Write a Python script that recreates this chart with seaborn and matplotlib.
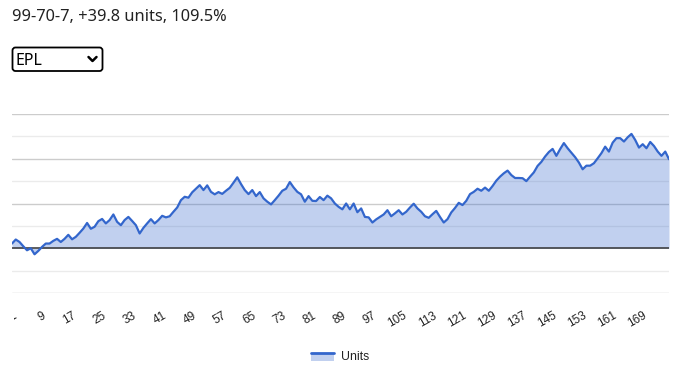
import numpy as np
import pandas as pd
import matplotlib
matplotlib.use("Agg")
import matplotlib.pyplot as plt
import seaborn as sns
from matplotlib.patches import FancyBboxPatch, Rectangle
from matplotlib.lines import Line2D
from matplotlib.legend_handler import HandlerBase
from matplotlib.transforms import Bbox, TransformedBbox

# Cumulative units after each bet
units = [
    2.1, 3.9, 2.8, 0.9, -0.9, 0.0, -2.7, -1.2, 0.6, 2.1,
    2.1, 3.3, 4.2, 2.8, 4.2, 6.0, 4.0, 5.1, 6.9, 8.8,
    11.3, 8.7, 9.6, 12.1, 13.1, 11.1, 12.6, 15.1, 11.8, 10.3,
    12.6, 14.0, 12.2, 10.3, 6.6, 9.1, 11.1, 13.0, 11.1, 12.6,
    14.5, 13.8, 14.3, 16.3, 18.2, 21.5, 23.0, 22.6, 25.0, 26.6,
    28.2, 26.0, 28.1, 25.2, 24.1, 25.1, 24.3, 25.7, 27.0, 29.3,
    31.7, 28.7, 26.0, 24.2, 26.0, 23.3, 25.1, 22.3, 20.8, 19.6,
    21.5, 23.5, 25.7, 26.6, 29.6, 27.2, 25.2, 24.1, 20.8, 23.3,
    21.2, 21.1, 22.9, 21.5, 23.5, 22.3, 20.0, 18.5, 17.4, 20.0,
    17.4, 20.0, 16.1, 17.8, 14.0, 13.8, 11.5, 12.9, 14.0, 15.1,
    17.0, 14.3, 15.6, 17.0, 15.1, 16.3, 18.2, 19.9, 17.8, 16.3,
    14.3, 13.6, 15.2, 16.7, 14.0, 11.5, 13.0, 16.0, 18.0, 20.3,
    19.3, 21.2, 24.2, 25.2, 26.6, 25.7, 27.1, 25.7, 27.8, 30.2,
    32.0, 33.5, 34.7, 32.7, 31.4, 31.4, 31.3, 30.0, 32.0, 33.9,
    36.8, 38.6, 41.0, 43.0, 44.4, 41.3, 44.3, 47.0, 44.7, 42.7,
    40.7, 38.3, 35.3, 36.9, 36.9, 38.0, 40.2, 42.5, 45.4, 43.2,
    47.2, 49.2, 49.2, 47.7, 49.6, 51.1, 48.4, 45.0, 46.5, 44.7,
    47.5, 45.7, 43.2, 41.3, 43.2, 39.8,
]
bets = list(range(1, len(units) + 1))
tick_bets = list(range(1, 170, 8))
title = "99-70-7, +39.8 units, 109.5%"
league = "EPL"
series_name = "Units"

df = pd.DataFrame({"bet": bets, "units": units})

line_color = "#3366cc"

sns.set_style("white")
plt.rcParams["font.family"] = ["Liberation Sans", "DejaVu Sans"]

W, H = 681, 378
fig = plt.figure(figsize=(W / 100, H / 100), dpi=100)
ax = fig.add_axes([12 / W, 1 - 293 / H, 657 / W, 179 / H])

# gridlines
for v in [-20, 20, 40, 60]:
    ax.axhline(v, color="#cccccc", lw=1, zorder=0)
for v in [-10, 10, 30, 50]:
    ax.axhline(v, color="#ebebeb", lw=1, zorder=0)

ax.fill_between(df["bet"], df["units"], 0, color=line_color, alpha=0.3, lw=0, zorder=1)
sns.lineplot(data=df, x="bet", y="units", color=line_color, lw=1.6, ax=ax, zorder=3)
ax.axhline(0, color="#333333", lw=1.1, zorder=2)

ax.set_xlim(1, len(units))
ax.set_ylim(-20, 60)
ax.set_yticks([])
ax.set_xlabel("")
ax.set_ylabel("")
for s in ax.spines.values():
    s.set_visible(False)

ax.set_xticks(tick_bets)
ax.set_xticklabels([str(b) for b in tick_bets], rotation=30, ha="right",
                   rotation_mode="anchor", fontsize=8.5, color="#222222")
ax.tick_params(axis="x", length=0, pad=12)
clip = TransformedBbox(Bbox([[13.5 / W, 0], [1, 1]]), fig.transFigure)
for lab in ax.get_xticklabels():
    lab.set_clip_box(clip)
    lab.set_clip_on(True)

# header text
fig.text(12 / W, 1 - 17 / H, title, fontsize=11.8, color="#222222",
         va="center", ha="left", family=["Noto Sans", "DejaVu Sans"])

# dropdown box
box = FancyBboxPatch((0.125, (H - 71) / 100), 0.90, 0.235,
                     boxstyle="round,pad=0,rounding_size=0.03",
                     transform=fig.dpi_scale_trans, fc="white", ec="black", lw=1.3)
fig.patches.append(box)
fig.text(0.155, (H - 61) / 100, league, transform=fig.dpi_scale_trans,
         fontsize=11.5, color="black", va="center", ha="left",
         family=["Noto Sans", "DejaVu Sans"])
fig.lines.append(Line2D([0.885, 0.925, 0.965], [(H - 57) / 100, (H - 61) / 100, (H - 57) / 100],
                        transform=fig.dpi_scale_trans, color="black", lw=1.8,
                        solid_capstyle="round", solid_joinstyle="round"))


class AreaHandler(HandlerBase):
    def create_artists(self, legend, orig, xd, yd, width, height, fontsize, trans):
        top = yd + height * 0.85
        rect = Rectangle((xd, yd - height * 0.1), width, top - (yd - height * 0.1),
                         fc=line_color, alpha=0.3, lw=0, transform=trans)
        ln = Line2D([xd, xd + width], [top] * 2, color=line_color,
                    lw=2, transform=trans)
        return [rect, ln]


handle = Rectangle((0, 0), 1, 1)
fig.legend([handle], [series_name], handler_map={Rectangle: AreaHandler()},
           loc="center", bbox_to_anchor=(340 / W, 1 - 357 / H), frameon=False,
           fontsize=8.8, handlelength=1.9, handleheight=0.7, handletextpad=0.5,
           labelcolor="#222222")

fig.savefig("out.png", dpi=100)
